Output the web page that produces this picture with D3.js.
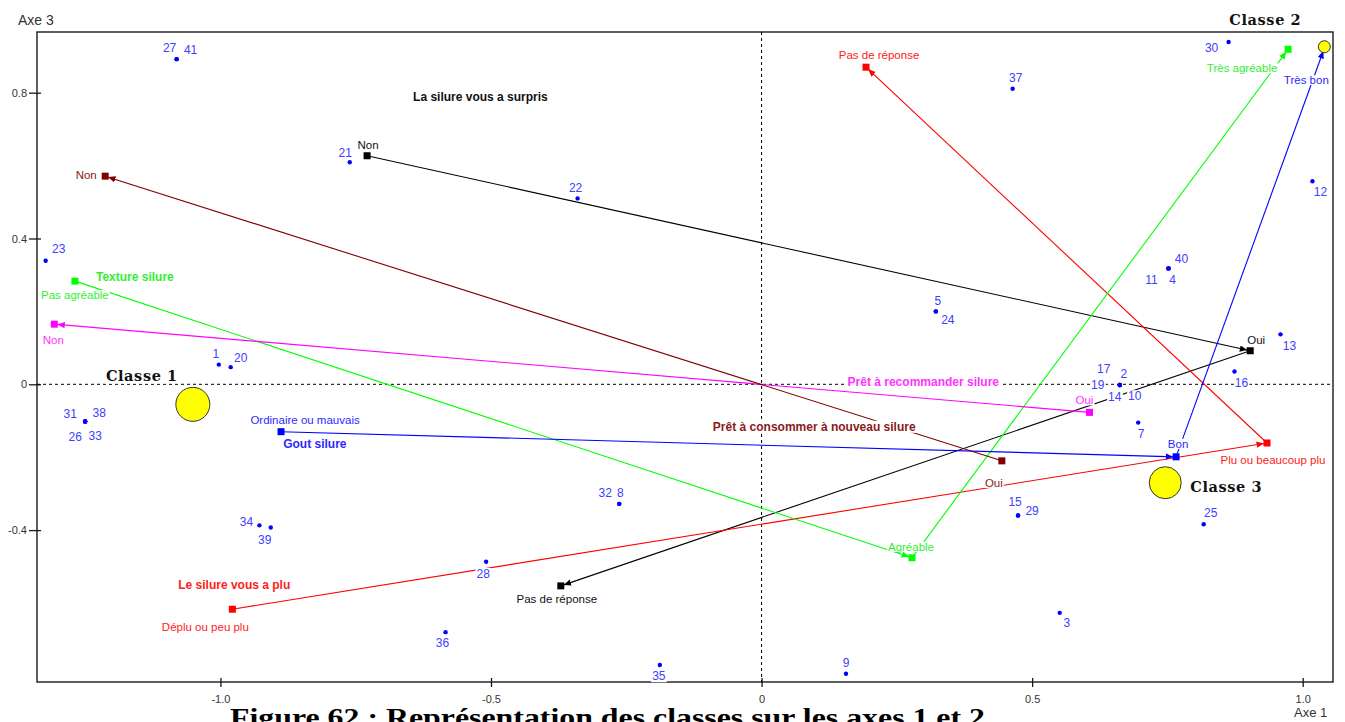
<!DOCTYPE html>
<html>
<head>
<meta charset="utf-8">
<script src="https://cdn.jsdelivr.net/npm/d3@7"></script>
<style>
  html, body { margin: 0; padding: 0; background: #fff; }
  svg { display: block; font-family: "Liberation Sans", Arial, sans-serif; }
</style>
</head>
<body>
<svg id="chart" width="1345" height="722"></svg>
<script>
// ---------------- DATA ----------------
const xTicks = [-1.0, -0.5, 0, 0.5, 1.0];
const xTickLabels = ["-1.0", "-0.5", "0", "0.5", "1.0"];
const yTicks = [0.8, 0.4, 0, -0.4];
const yTickLabels = ["0.8", "0.4", "0", "-0.4"];

// individuals (blue points)
const indivLabels = ["27","41","21","22","30","37","12","23","40","11","4","5","24","13","16","17","2","19","14","10","7","1","20","31","38","26","33","34","39","36","32","8","28","35","9","15","29","25","3"];
const indivAxe1 = [-1.081,-1.081,-0.761,-0.340,0.863,0.464,1.018,-1.323,0.752,0.752,0.752,0.322,0.322,0.959,0.874,0.662,0.662,0.662,0.662,0.662,0.696,-1.003,-0.981,-1.250,-1.250,-1.250,-1.250,-0.928,-0.907,-0.584,-0.263,-0.263,-0.509,-0.188,0.156,0.474,0.474,0.817,0.551];
const indivAxe3 = [0.892,0.892,0.609,0.510,0.939,0.811,0.557,0.339,0.318,0.318,0.318,0.200,0.200,0.137,0.035,-0.002,-0.002,-0.002,-0.002,-0.002,-0.105,0.054,0.047,-0.102,-0.102,-0.102,-0.102,-0.387,-0.393,-0.680,-0.328,-0.328,-0.487,-0.770,-0.794,-0.360,-0.360,-0.384,-0.627];

// variables and their modalities
const varNames = ["La silure vous a surpris","Le silure vous a plu","Texture silure","Gout silure","Prêt à recommander silure","Prêt à consommer à nouveau silure"];
const varColors = ["#000000","#ff0000","#00ff00","#0000ff","#ff00ff","#800000"];
const modNames = [
  ["Non","Oui","Pas de réponse"],
  ["Déplu ou peu plu","Plu ou beaucoup plu","Pas de réponse"],
  ["Pas agréable","Agréable","Très agréable"],
  ["Ordinaire ou mauvais","Bon","Très bon"],
  ["Oui","Non"],
  ["Oui","Non"]
];
const modAxe1 = [[-0.729,0.903,-0.371],[-0.978,0.934,0.193],[-1.269,0.278,0.973],[-0.888,0.766,1.040],[0.606,-1.307],[0.444,-1.213]];
const modAxe3 = [[0.627,0.092,-0.553],[-0.617,-0.161,0.870],[0.283,-0.476,0.919],[-0.130,-0.199,0.922],[-0.077,0.165],[-0.210,0.571]];

// classes (yellow circles)
const classNames = ["Classe 1","Classe 2","Classe 3"];
const classAxe1 = [-1.051, 1.040, 0.746];
const classAxe3 = [-0.055, 0.926, -0.270];
const classSize = [17, 6, 16];

// ---------------- LAYOUT ----------------
const plot = {left: 37, top: 32, right: 1333, bottom: 682};
const indivLabelOffset = [[-7,-11],[14,-9],[-4.5,-10],[-2,-11],[-17,6],[3,-11],[8,11],[13,-12],[13,-10],[-17,11],[4,11],[2,-11],[12,8],[9,11],[7,11],[-16,-16],[4,-11],[-22,0],[-5,12],[15,11],[3,11],[-3,-11],[10,-9],[-15,-8],[14,-9],[-10,15],[10,14],[-13,-4],[-6,12],[-3,11],[-14,-11],[1,-11],[-3,12],[-1,11],[0,-11],[-3,-14],[14,-5],[7,-11],[7,10]];
const modLabelOffset = [
  [[1,-11],[6,-11],[-4,13]],
  [[-27,18],[6,17],[13,-12]],
  [[0,14],[-1,-11],[-46,19]],
  [[24,-12],[2,-13],[-18,32]],
  [[-5,-12],[-1,16]],
  [[-8,22],[-19,-1]]
];
const varTitlePos = [[-0.644,0.788],[-1.078,-0.551],[-1.230,0.295],[-0.884,-0.164],[0.159,0.006],[-0.090,-0.116]];
const varTextColors = ["#111111","#ff2020","#33ee33","#2a2aff","#ff33ff","#8b1a1a"];
const classLabelOffset = [[-51,-28,"middle"],[-59,-27,"middle"],[25,4,"start"]];

const svg = d3.select("#chart");
const x = d3.scaleLinear().domain([-1.339, 1.056]).range([plot.left, plot.right]);
const y = d3.scaleLinear().domain([-0.8167, 0.9665]).range([plot.bottom, plot.top]);
const rScale = d3.scaleLinear().domain([0, 1]).range([0, 1]);

// frame
svg.append("rect")
  .attr("x", plot.left).attr("y", plot.top)
  .attr("width", plot.right - plot.left).attr("height", plot.bottom - plot.top)
  .attr("fill", "none").attr("stroke", "#1a1a1a").attr("stroke-width", 1.4);

// axes
const xAxis = svg.append("g").attr("transform", `translate(0,${plot.bottom})`)
  .call(d3.axisBottom(x).tickValues(xTicks).tickFormat((d, i) => xTickLabels[i]).tickSize(5).tickPadding(8));
xAxis.select(".domain").remove();
xAxis.selectAll(".tick line").attr("y1", -4).attr("y2", 5).attr("stroke", "#1a1a1a").attr("stroke-width", 1.3);
xAxis.selectAll(".tick text").attr("fill", "#333").style("font-size", "11px").style("font-family", "Liberation Sans, Arial, sans-serif");

const yAxis = svg.append("g").attr("transform", `translate(${plot.left},0)`)
  .call(d3.axisLeft(y).tickValues(yTicks).tickFormat((d, i) => yTickLabels[i]).tickSize(8).tickPadding(2));
yAxis.select(".domain").remove();
yAxis.selectAll(".tick line").attr("x1", -8).attr("x2", 4).attr("stroke", "#1a1a1a").attr("stroke-width", 1.3);
yAxis.selectAll(".tick text").attr("fill", "#333").style("font-size", "11px").style("font-family", "Liberation Sans, Arial, sans-serif");

// dashed zero lines
svg.append("line")
  .attr("x1", x(0)).attr("x2", x(0)).attr("y1", plot.top).attr("y2", plot.bottom)
  .attr("stroke", "#000").attr("stroke-width", 1).attr("stroke-dasharray", "3,3");
svg.append("line")
  .attr("x1", plot.left).attr("x2", plot.right).attr("y1", y(0)).attr("y2", y(0))
  .attr("stroke", "#000").attr("stroke-width", 1).attr("stroke-dasharray", "3,3");

// axis names
svg.append("text").attr("x", 18).attr("y", 20).attr("dy", "0.35em").style("font-size", "14px").attr("fill", "#333").text("Axe 3");
svg.append("text").attr("x", 1294).attr("y", 712).attr("dy", "0.35em").style("font-size", "13px").attr("fill", "#333").text("Axe 1");

// markers
const defs = svg.append("defs");
varColors.forEach((c, i) => {
  defs.append("marker")
    .attr("id", "arrow" + i)
    .attr("markerUnits", "userSpaceOnUse")
    .attr("viewBox", "0 -4 8 8")
    .attr("markerWidth", 8).attr("markerHeight", 8)
    .attr("refX", 10.5).attr("refY", 0)
    .attr("orient", "auto")
    .append("path").attr("d", "M0,-3.2L7.5,0L0,3.2Z").attr("fill", c);
});

// variable paths
const gLines = svg.append("g");
varNames.forEach((v, i) => {
  const xs = modAxe1[i], ys = modAxe3[i];
  for (let k = 0; k < xs.length - 1; k++) {
    gLines.append("line")
      .attr("x1", x(xs[k])).attr("y1", y(ys[k]))
      .attr("x2", x(xs[k + 1])).attr("y2", y(ys[k + 1]))
      .attr("stroke", varColors[i]).attr("stroke-width", 1.1)
      .attr("marker-end", `url(#arrow${i})`);
  }
});

// modality squares
varNames.forEach((v, i) => {
  modAxe1[i].forEach((mx, k) => {
    svg.append("rect")
      .attr("x", x(mx) - 3.5).attr("y", y(modAxe3[i][k]) - 3.5)
      .attr("width", 7).attr("height", 7)
      .attr("fill", varColors[i]);
  });
});

// individual dots
svg.append("g").selectAll("circle")
  .data(indivLabels.map((l, i) => ({l, a1: indivAxe1[i], a3: indivAxe3[i]})))
  .join("circle")
  .attr("cx", d => x(d.a1)).attr("cy", d => y(d.a3)).attr("r", 2.2)
  .attr("fill", "#0000ff");

// classes circles
classNames.forEach((c, i) => {
  svg.append("circle")
    .attr("cx", x(classAxe1[i])).attr("cy", y(classAxe3[i]))
    .attr("r", rScale(classSize[i]))
    .attr("fill", "#ffff00").attr("stroke", "#333").attr("stroke-width", 1);
});

// label helper with white background
const gLabels = svg.append("g");
function label(txt, px, py, opts) {
  const g = gLabels.append("g");
  const t = g.append("text")
    .attr("x", px).attr("y", py).attr("dy", "0.35em")
    .attr("text-anchor", opts.anchor || "middle")
    .style("font-size", (opts.size || 12) + "px")
    .style("font-weight", opts.weight || "normal")
    .attr("fill", opts.color || "#000")
    .text(txt);
  if (opts.family) t.style("font-family", opts.family);
  if (opts.spacing) t.style("letter-spacing", opts.spacing + "px");
  const bb = t.node().getBBox();
  g.insert("rect", "text")
    .attr("x", bb.x - 1).attr("y", bb.y + 1)
    .attr("width", bb.width + 2).attr("height", bb.height - 2)
    .attr("fill", "#fff");
  return t;
}

// individual labels
indivLabels.forEach((l, i) => {
  label(l, x(indivAxe1[i]) + indivLabelOffset[i][0], y(indivAxe3[i]) + indivLabelOffset[i][1], {color: "#4040ff", size: 12});
});

// modality labels
varNames.forEach((v, i) => {
  modNames[i].forEach((m, k) => {
    const o = modLabelOffset[i][k];
    label(m, x(modAxe1[i][k]) + o[0], y(modAxe3[i][k]) + o[1], {color: varTextColors[i], size: 11.5});
  });
});

// variable titles
varNames.forEach((v, i) => {
  label(v, x(varTitlePos[i][0]), y(varTitlePos[i][1]), {color: varTextColors[i], size: 12, weight: "bold", anchor: "start"});
});

// class labels
classNames.forEach((c, i) => {
  const o = classLabelOffset[i];
  label(c, x(classAxe1[i]) + o[0], y(classAxe3[i]) + o[1], {color: "#111", size: 14.5, weight: "bold", anchor: o[2], family: "'DejaVu Serif', serif", spacing: 0.6});
});

// figure caption (cut off at the bottom in the reference)
svg.append("text")
  .attr("x", 230).attr("y", 726)
  .style("font-family", "'Liberation Serif', serif")
  .style("font-weight", "bold").style("font-size", "26px")
  .attr("textLength", 755).attr("lengthAdjust", "spacingAndGlyphs")
  .attr("fill", "#000")
  .text("Figure 62 : Représentation des classes sur les axes 1 et 2");
</script>
</body>
</html>
